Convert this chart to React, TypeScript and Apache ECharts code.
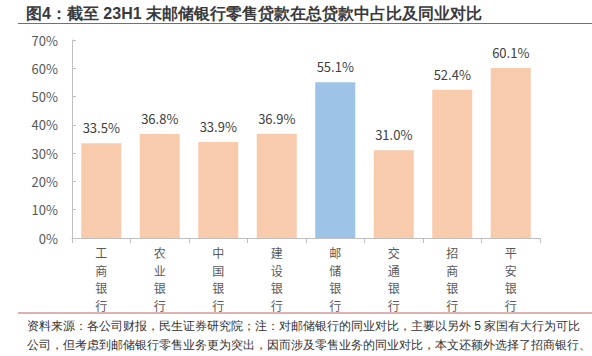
import React, { useEffect, useRef } from "react";
import * as echarts from "echarts";

const categories = ["工商银行", "农业银行", "中国银行", "建设银行", "邮储银行", "交通银行", "招商银行", "平安银行"];
const values = [33.5, 36.8, 33.9, 36.9, 55.1, 31.0, 52.4, 60.1];
const highlight = "邮储银行";
const yTicks = [0, 10, 20, 30, 40, 50, 60, 70];

const title = "图4：截至 23H1 末邮储银行零售贷款在总贷款中占比及同业对比";
const note1 = "资料来源：各公司财报，民生证券研究院；注：对邮储银行的同业对比，主要以另外 5 家国有大行为可比";
const note2 = "公司，但考虑到邮储银行零售业务更为突出，因而涉及零售业务的同业对比，本文还额外选择了招商银行、";

export default function App() {
  const ref = useRef<HTMLDivElement>(null);
  useEffect(() => {
    const chart = echarts.init(ref.current!, null, { renderer: "svg" });
    const font = "'Microsoft YaHei', 'Noto Sans CJK SC', sans-serif";
    chart.setOption({
      animation: false,
      textStyle: { fontFamily: font },
      grid: { left: 72, right: 52, top: 40, bottom: 118 },
      xAxis: {
        type: "category",
        data: categories,
        axisLine: { lineStyle: { color: "#bfbfbf" } },
        axisTick: { show: true, length: 5, lineStyle: { color: "#bfbfbf" } },
        axisLabel: {
          color: "#595959",
          fontSize: 12,
          lineHeight: 17.5,
          margin: 6,
          formatter: (v: string) => v.split("").join("\n"),
        },
      },
      yAxis: {
        type: "value",
        min: yTicks[0],
        max: yTicks[yTicks.length - 1],
        interval: 10,
        splitLine: { show: false },
        axisLine: { show: true, lineStyle: { color: "#bfbfbf" } },
        axisTick: { show: true, inside: true, length: 4, lineStyle: { color: "#bfbfbf" } },
        axisLabel: { color: "#595959", fontSize: 13, margin: 14, formatter: (v: number) => v + "%" },
      },
      series: [
        {
          type: "bar",
          barWidth: 40,
          data: values.map((v, i) => ({
            value: v,
            itemStyle: { color: categories[i] === highlight ? "#9dc3e6" : "#f8cbad" },
          })),
          label: {
            show: true,
            position: "top",
            distance: 9,
            color: "#404040",
            fontSize: 13,
            formatter: (p: any) => p.value.toFixed(1) + "%",
          },
        },
      ],
      graphic: [
        {
          type: "text",
          x: 26,
          y: 13,
          style: {
            text: title,
            fontSize: 16,
            fontWeight: "bold",
            fill: "#3a3a3a",
            font: `bold 16px ${font}`,
            verticalAlign: "middle",
          },
        },
        { type: "line", shape: { x1: 18, y1: 23.5, x2: 592, y2: 23.5 }, style: { stroke: "#c0504d", lineWidth: 1 } },
        { type: "line", shape: { x1: 18, y1: 313, x2: 592, y2: 313 }, style: { stroke: "#d99694", lineWidth: 1.5 } },
        {
          type: "text",
          left: 27,
          top: 320,
          style: { text: note1, fontSize: 12, fill: "#333", font: `12px ${font}` },
        },
        {
          type: "text",
          left: 27,
          top: 339,
          style: { text: note2, fontSize: 12, fill: "#333", font: `12px ${font}` },
        },
      ],
    });
    return () => chart.dispose();
  }, []);
  return <div ref={ref} style={{ width: 592, height: 356, position: "absolute", left: 0, top: 0 }} />;
}
